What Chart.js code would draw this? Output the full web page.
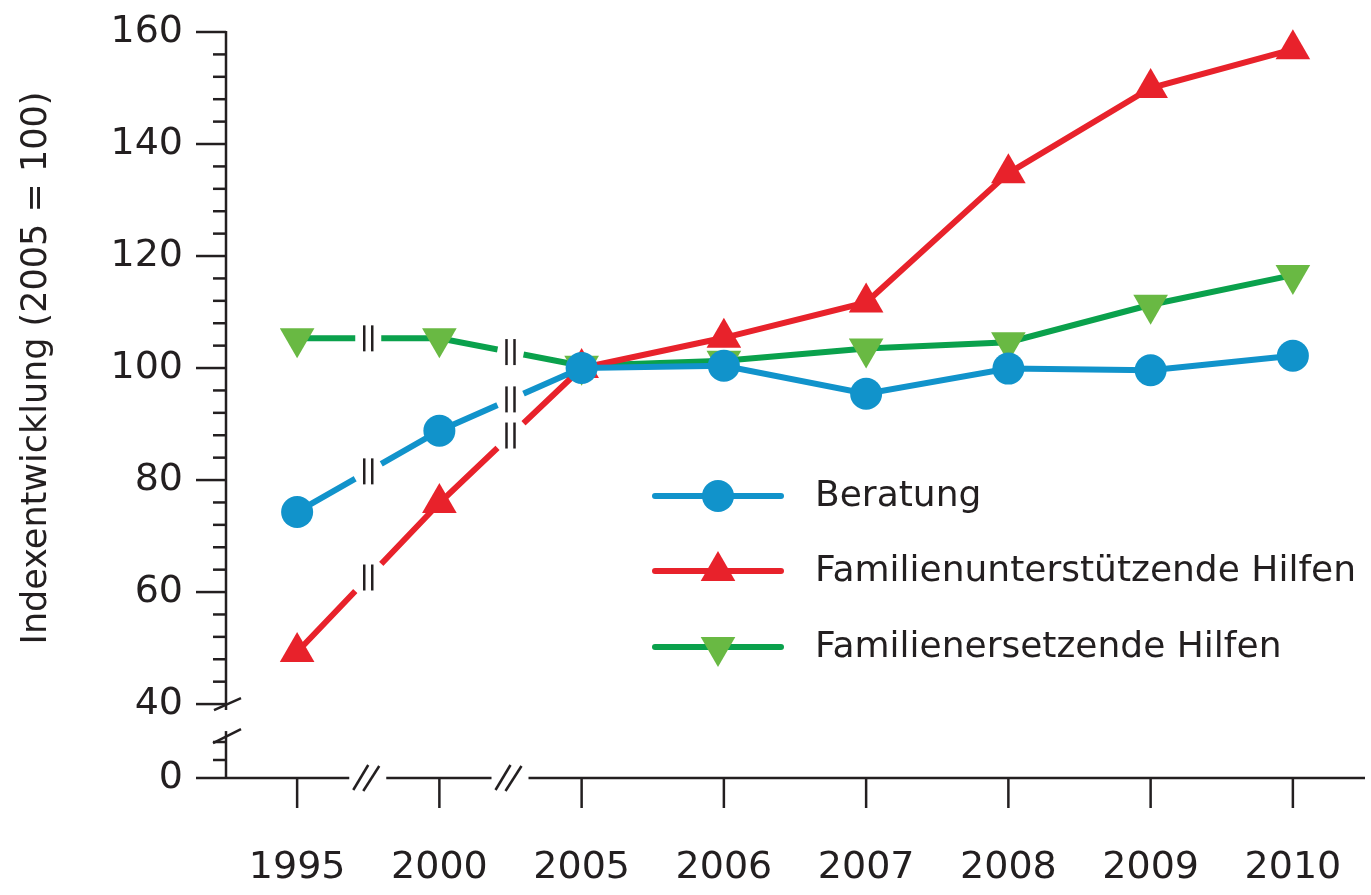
<!DOCTYPE html>
<html lang="de">
<head>
<meta charset="UTF-8" />
<title>Indexentwicklung</title>
<script src="https://cdn.jsdelivr.net/npm/chart.js"></script>
<style>
  html, body { margin: 0; padding: 0; background: #fff; }
  #wrap { width: 1371px; height: 895px; }
</style>
</head>
<body>
<div id="wrap"><canvas id="indexChart"></canvas></div>
<script>
  const years = ['1995', '2000', '2005', '2006', '2007', '2008', '2009', '2010'];
  const beratung = [74.3, 88.8, 100, 100.4, 95.4, 99.9, 99.6, 102.2];
  const familienUnterstuetzend = [49.3, 75.9, 100, 105.4, 111.7, 134.8, 150, 156.9];
  const familienErsetzend = [105.3, 105.3, 100.4, 101.3, 103.5, 104.6, 111.3, 116.6];
  const seriesNames = ['Beratung', 'Familienunterstützende Hilfen', 'Familienersetzende Hilfen'];
  const yTickValues = [0, 40, 60, 80, 100, 120, 140, 160];
  const yTitle = 'Indexentwicklung (2005 = 100)';

  // 0 sits on a squeezed stretch of the axis below the break
  const ZERO_AT = 26.8;
  const Y_MAX = 160;
  // the segments before 2005 cover more than one year -> break sign on the line
  const brokenSegments = [0, 1];

  const ink = '#231f20';
  const blue = '#1193cb', red = '#e8222b', green = '#0aa14c', greenMark = '#69b943';
  const fontFamily = '"DejaVu Sans", sans-serif';

  Chart.defaults.font.family = fontFamily;
  Chart.defaults.color = ink;

  function line(ctx, x1, y1, x2, y2) {
    ctx.beginPath();
    ctx.moveTo(x1, y1);
    ctx.lineTo(x2, y2);
    ctx.stroke();
  }

  const lineBreaks = {
    id: 'lineBreaks',
    afterDatasetsDraw(chart) {
      const ctx = chart.ctx;
      ctx.save();
      chart.data.datasets.forEach((ds, i) => {
        const pts = chart.getDatasetMeta(i).data;
        brokenSegments.forEach(k => {
          const a = pts[k], b = pts[k + 1];
          const mx = (a.x + b.x) / 2, my = (a.y + b.y) / 2;
          const slope = (b.y - a.y) / (b.x - a.x);
          ctx.strokeStyle = '#fff';
          ctx.lineWidth = 13;
          line(ctx, mx - 13, my - slope * 13, mx + 13, my + slope * 13);
          ctx.strokeStyle = ink;
          ctx.lineWidth = 2.5;
          line(ctx, mx - 4, my - 13, mx - 4, my + 13);
          line(ctx, mx + 4, my - 13, mx + 4, my + 13);
        });
      });
      ctx.restore();
    }
  };

  const axesAndLegend = {
    id: 'axesAndLegend',
    afterDraw(chart) {
      const ctx = chart.ctx;
      const xs = chart.scales.x, ys = chart.scales.y;
      const left = chart.chartArea.left;
      const bottom = ys.getPixelForValue(ZERO_AT);
      const top = ys.getPixelForValue(Y_MAX);
      const y40 = ys.getPixelForValue(40);
      ctx.save();
      ctx.strokeStyle = ink;
      ctx.lineWidth = 2.5;

      // y axis, broken between 0 and 40
      line(ctx, left, top - 1, left, y40 + 6);
      line(ctx, left, y40 + 27, left, bottom);
      line(ctx, left - 12, y40 + 6, left + 15, y40 - 6);
      line(ctx, left - 13, y40 + 39, left + 15, y40 + 25);
      yTickValues.forEach(v => {
        if (v === 0) return;
        const py = ys.getPixelForValue(v);
        line(ctx, left - 30, py, left, py);
      });
      for (let v = 44; v < Y_MAX; v += 4) {
        if (v % 20 === 0) continue;
        const py = ys.getPixelForValue(v);
        line(ctx, left - 13, py, left, py);
      }
      line(ctx, left - 13, bottom - 18, left, bottom - 18);
      line(ctx, left - 13, bottom - 36, left, bottom - 36);

      // x axis with breaks between 1995/2000 and 2000/2005
      const gaps = brokenSegments.map(k => (xs.getPixelForValue(k) + xs.getPixelForValue(k + 1)) / 2);
      let start = left - 30;
      gaps.forEach(g => {
        line(ctx, start, bottom, g - 19, bottom);
        line(ctx, g - 15, bottom + 12, g, bottom - 13);
        line(ctx, g - 5, bottom + 13, g + 11, bottom - 12);
        start = g + 18;
      });
      line(ctx, start, bottom, chart.width - 6, bottom);
      years.forEach((yr, i) => {
        const px = xs.getPixelForValue(i);
        line(ctx, px, bottom, px, bottom + 30);
      });

      // y title
      ctx.save();
      ctx.translate(37, (top + y40) / 2);
      ctx.rotate(-Math.PI / 2);
      ctx.fillStyle = ink;
      ctx.font = '35px ' + fontFamily;
      ctx.textAlign = 'center';
      ctx.textBaseline = 'middle';
      ctx.fillText(yTitle, 0, 0);
      ctx.restore();

      // legend
      const rows = [496, 571, 647];
      chart.data.datasets.forEach((ds, i) => {
        const ry = rows[i];
        ctx.strokeStyle = ds.borderColor;
        ctx.lineWidth = 6;
        ctx.lineCap = 'round';
        line(ctx, 655, ry, 781, ry);
        ctx.fillStyle = ds.pointBackgroundColor;
        Chart.helpers.drawPoint(ctx, {
          pointStyle: ds.pointStyle,
          rotation: ds.pointRotation || 0,
          radius: ds.pointRadius,
          borderWidth: 0
        }, 718, ry);
        ctx.fillStyle = ink;
        ctx.font = '36px ' + fontFamily;
        ctx.textAlign = 'left';
        ctx.textBaseline = 'middle';
        ctx.fillText(ds.label, 815, ry + 1);
      });
      ctx.restore();
    }
  };

  new Chart(document.getElementById('indexChart'), {
    type: 'line',
    data: {
      labels: years,
      datasets: [
        {
          label: seriesNames[0], data: beratung,
          borderColor: blue, borderWidth: 6, pointBackgroundColor: blue,
          pointStyle: 'circle', pointRadius: 16, pointBorderWidth: 0, clip: false
        },
        {
          label: seriesNames[1], data: familienUnterstuetzend,
          borderColor: red, borderWidth: 6, pointBackgroundColor: red,
          pointStyle: 'triangle', pointRadius: 20, pointBorderWidth: 0, clip: false
        },
        {
          label: seriesNames[2], data: familienErsetzend,
          borderColor: green, borderWidth: 6, pointBackgroundColor: greenMark,
          pointStyle: 'triangle', pointRotation: 180, pointRadius: 20, pointBorderWidth: 0, clip: false
        }
      ]
    },
    options: {
      responsive: true,
      maintainAspectRatio: false,
      animation: false,
      events: [],
      layout: { autoPadding: false, padding: { top: 32, right: 7, bottom: 0, left: 0 } },
      plugins: { legend: { display: false }, tooltip: { enabled: false } },
      scales: {
        x: {
          offset: true,
          grid: { display: false, drawTicks: true, tickLength: 55 },
          border: { display: false },
          ticks: { padding: 12, font: { size: 38 }, color: ink, maxRotation: 0 },
          afterFit(scale) {
            scale.height = 117;
            scale.paddingLeft = 0;
            scale.paddingRight = 0;
          }
        },
        y: {
          min: ZERO_AT,
          max: Y_MAX,
          grid: { display: false, drawTicks: true, tickLength: 31 },
          border: { display: false },
          afterBuildTicks(scale) {
            scale.ticks = yTickValues.map(v => ({ value: v === 0 ? ZERO_AT : v }));
          },
          ticks: {
            padding: 12,
            font: { size: 38 },
            color: ink,
            callback: v => (v === ZERO_AT ? '0' : v)
          },
          afterFit(scale) {
            scale.width = 226;
            scale.paddingTop = 0;
            scale.paddingBottom = 0;
          }
        }
      }
    },
    plugins: [lineBreaks, axesAndLegend]
  });
</script>
</body>
</html>
